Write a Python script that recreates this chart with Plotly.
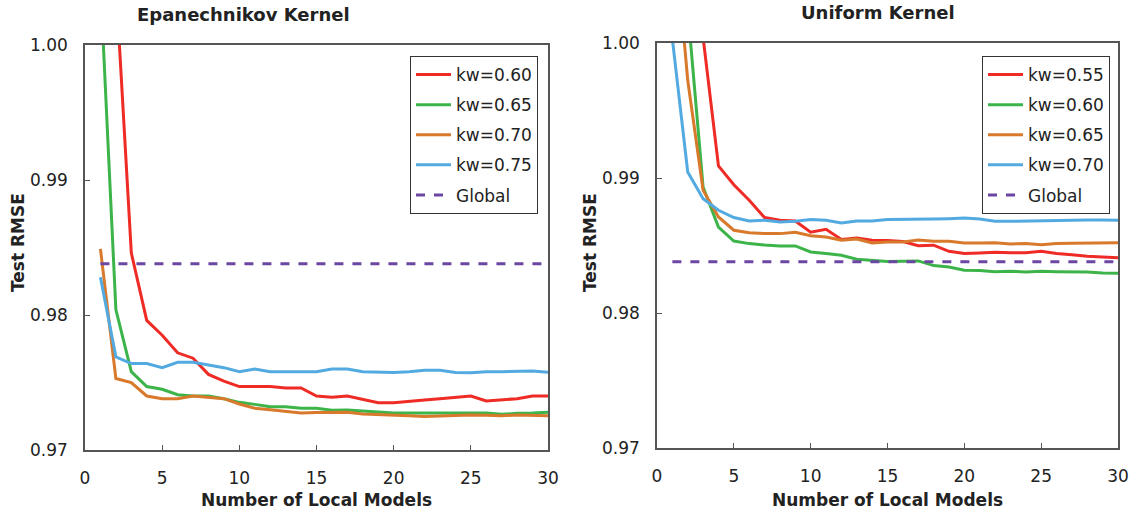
import plotly.graph_objects as go

x_vals = list(range(1, 31))

# Epanechnikov kernel
epa_labels = ["kw=0.60", "kw=0.65", "kw=0.70", "kw=0.75"]
epa_060 = [1.02, 1.0046, 0.9846, 0.9796, 0.9785, 0.9772, 0.9768, 0.9756, 0.9751, 0.9747,
           0.9747, 0.9747, 0.9746, 0.9746, 0.9740, 0.9739, 0.9740, 0.97375, 0.9735, 0.9735,
           0.97358, 0.9737, 0.9738, 0.9739, 0.9740, 0.97363, 0.97373, 0.9738, 0.9740, 0.9740]
epa_065 = [1.0046, 0.9804, 0.9758, 0.9747, 0.9745, 0.9741, 0.9740, 0.9740, 0.9738, 0.97353,
           0.97338, 0.97321, 0.97321, 0.97309, 0.97309, 0.97294, 0.97296, 0.97289, 0.97277, 0.97274,
           0.97274, 0.97274, 0.97272, 0.97272, 0.97277, 0.97274, 0.97264, 0.97272, 0.97274, 0.97279]
epa_070 = [0.9849, 0.9753, 0.9750, 0.9740, 0.9738, 0.9738, 0.9740, 0.9739, 0.9738, 0.97341,
           0.97309, 0.97299, 0.97289, 0.97274, 0.97277, 0.97279, 0.97279, 0.97267, 0.97264, 0.97259,
           0.97254, 0.97249, 0.97252, 0.97257, 0.97259, 0.97257, 0.97254, 0.97259, 0.97254, 0.97254]
epa_075 = [0.9828, 0.9769, 0.9764, 0.9764, 0.9761, 0.9765, 0.9765, 0.9763, 0.9761, 0.9758,
           0.9760, 0.9758, 0.9758, 0.97575, 0.9758, 0.9760, 0.9760, 0.9758, 0.97575, 0.97575,
           0.9758, 0.9759, 0.9759, 0.97575, 0.97573, 0.9758, 0.9758, 0.9758, 0.97585, 0.97575]

# Uniform kernel
uni_labels = ["kw=0.55", "kw=0.60", "kw=0.65", "kw=0.70"]
uni_055 = [1.03, 1.02, 1.0004, 0.9909, 0.9895, 0.98835, 0.98707, 0.98687, 0.98682, 0.98598,
           0.98620, 0.98544, 0.98556, 0.98539, 0.98537, 0.98529, 0.98499, 0.98502, 0.98457, 0.98440,
           0.98445, 0.98450, 0.98447, 0.98447, 0.98457, 0.98440, 0.98432, 0.98420, 0.98415, 0.98410]
uni_060 = [1.02, 1.0025, 0.98933, 0.98637, 0.98533, 0.98514, 0.98504, 0.98497, 0.98497, 0.98452,
           0.98440, 0.98427, 0.98398, 0.98388, 0.98381, 0.98383, 0.98386, 0.98351, 0.98341, 0.98316,
           0.98314, 0.98306, 0.98309, 0.98304, 0.98309, 0.98306, 0.98306, 0.98304, 0.98296, 0.98294]
uni_065 = [1.01, 0.99724, 0.98909, 0.98711, 0.98613, 0.98595, 0.98588, 0.98588, 0.98598, 0.98573,
           0.98563, 0.98539, 0.98548, 0.98519, 0.98526, 0.98526, 0.98541, 0.98532, 0.98532, 0.98519,
           0.98519, 0.98521, 0.98511, 0.98514, 0.98506, 0.98514, 0.98516, 0.98519, 0.98521, 0.98521]
uni_070 = [1.0003, 0.99045, 0.98847, 0.98761, 0.98707, 0.98682, 0.98687, 0.98675, 0.98680, 0.98692,
           0.98687, 0.98667, 0.98682, 0.98682, 0.98692, 0.98692, 0.98694, 0.98696, 0.98699, 0.98704,
           0.98696, 0.98679, 0.98679, 0.98682, 0.98684, 0.98687, 0.98689, 0.98689, 0.98689, 0.98687]

global_rmse = 0.9838
global_label = "Global"

y_ticks = [0.97, 0.98, 0.99, 1.00]
y_tick_text = ["0.97", "0.98", "0.99", "1.00"]
x_ticks = [0, 5, 10, 15, 20, 25, 30]

colors = ["#EE2B25", "#3CB44A", "#D8792B", "#52AAE1"]
purple = "#6B47A3"
FONT = "DejaVu Sans"

fig = go.Figure()

for i, (lab, ys) in enumerate(zip(epa_labels, [epa_060, epa_065, epa_070, epa_075])):
    fig.add_trace(go.Scatter(x=x_vals, y=ys, mode="lines", name=lab,
                             line=dict(color=colors[i], width=3),
                             xaxis="x", yaxis="y", legend="legend", legendgroup="a%d" % i))
fig.add_trace(go.Scatter(x=x_vals, y=[global_rmse] * len(x_vals), mode="lines", name=global_label,
                         line=dict(color=purple, width=3, dash="dash"),
                         xaxis="x", yaxis="y", legend="legend", legendgroup="a4"))

for i, (lab, ys) in enumerate(zip(uni_labels, [uni_055, uni_060, uni_065, uni_070])):
    fig.add_trace(go.Scatter(x=x_vals, y=ys, mode="lines", name=lab,
                             line=dict(color=colors[i], width=3),
                             xaxis="x2", yaxis="y2", legend="legend2", legendgroup="b%d" % i))
fig.add_trace(go.Scatter(x=x_vals, y=[global_rmse] * len(x_vals), mode="lines", name=global_label,
                         line=dict(color=purple, width=3, dash="dash"),
                         xaxis="x2", yaxis="y2", legend="legend2", legendgroup="b4"))

W, H = 1141, 516

def px(v):
    return v / W

def py(v):
    return 1 - v / H

axis_common = dict(showline=True, mirror=True, linecolor="#555555", linewidth=1.5,
                   ticks="inside", ticklen=5, tickcolor="#555555", showgrid=False,
                   zeroline=False, automargin=False,
                   tickfont=dict(family=FONT, size=17, color="#222222"))

legend_common = dict(xanchor="left", yanchor="top", bgcolor="white",
                     bordercolor="#333333", borderwidth=1,
                     font=dict(family=FONT, size=17, color="#222222"),
                     itemwidth=35, tracegroupgap=5, traceorder="grouped")

fig.update_layout(
    width=W, height=H,
    margin=dict(l=0, r=0, t=0, b=0, autoexpand=False),
    paper_bgcolor="white", plot_bgcolor="white",
    font=dict(family=FONT, color="#222222"),
    xaxis=dict(domain=[px(85), px(548)], range=[0, 30], tickvals=x_ticks, anchor="y",
               ticklabelstandoff=12, **axis_common),
    yaxis=dict(domain=[py(450), py(45)], range=[0.97, 1.00], tickvals=y_ticks, ticktext=y_tick_text,
               anchor="x", ticklabelstandoff=12, **axis_common),
    xaxis2=dict(domain=[px(657), px(1118)], range=[0, 30], tickvals=x_ticks, anchor="y2",
                ticklabelstandoff=12, **axis_common),
    yaxis2=dict(domain=[py(448), py(43)], range=[0.97, 1.00], tickvals=y_ticks, ticktext=y_tick_text,
                anchor="x2", ticklabelstandoff=12, **axis_common),
    legend=dict(x=px(410), y=py(56), **legend_common),
    legend2=dict(x=px(982), y=py(56), **legend_common),
)

ann = [
    dict(text="<b>Epanechnikov Kernel</b>", x=px(243), y=py(14), size=18),
    dict(text="<b>Uniform Kernel</b>", x=px(878), y=py(12), size=18),
    dict(text="<b>Number of Local Models</b>", x=px(316), y=py(500), size=17),
    dict(text="<b>Number of Local Models</b>", x=px(887), y=py(500), size=17),
]
for a in ann:
    fig.add_annotation(text=a["text"], x=a["x"], y=a["y"], xref="paper", yref="paper",
                       xanchor="center", yanchor="middle", showarrow=False,
                       font=dict(family=FONT, size=a["size"], color="#222222"))
for xx in [18, 590]:
    fig.add_annotation(text="<b>Test RMSE</b>", x=px(xx), y=py(243), xref="paper", yref="paper",
                       xanchor="center", yanchor="middle", showarrow=False, textangle=-90,
                       font=dict(family=FONT, size=17, color="#222222"))

fig.write_html("out.html")
